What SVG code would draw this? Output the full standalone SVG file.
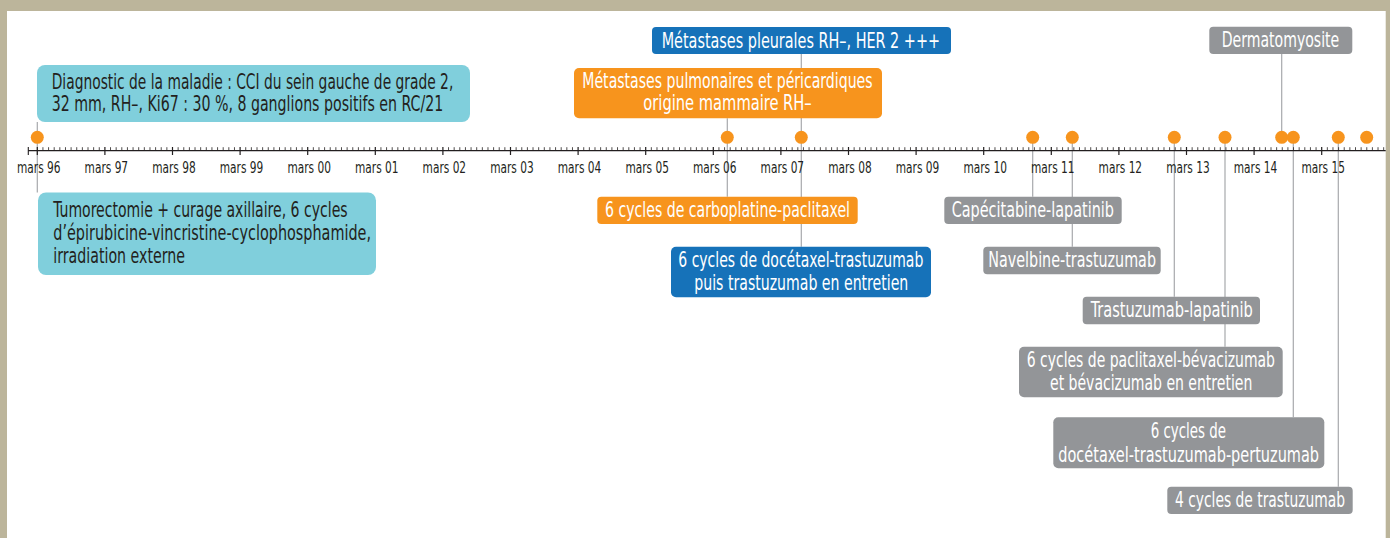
<svg xmlns="http://www.w3.org/2000/svg" width="1390" height="538" viewBox="0 0 1390 538">
<style>
text{font-family:"Liberation Sans Narrow","DejaVu Sans Condensed","Liberation Sans",sans-serif;}
.t{font-size:21px;}
.dk{fill:#231f20;}
.wt{fill:#ffffff;}
.ax{font-size:16px;fill:#231f20;}
.cyan{fill:#80cfdc;}
.orange{fill:#f7941d;}
.blue{fill:#1672b9;}
.gray{fill:#939598;}
.conn line{stroke:#a7a9ac;stroke-width:1.2;}
.dot{fill:#f7941d;}
</style>
<defs>
<path id="yr" d="M42.93 147.2V150.7M48.57 147.2V150.7M54.2 147.2V150.7M59.83 147.2V150.7M65.47 147.2V150.7M71.1 147.2V150.7M76.73 147.2V150.7M82.37 147.2V150.7M88 147.2V150.7M93.63 147.2V150.7M99.27 147.2V150.7"/>
</defs>
<rect x="0" y="0" width="1390" height="538" fill="#bcb59b"/>
<rect x="7" y="11" width="1378.7" height="527" fill="#ffffff"/>

<g id="connectors" class="conn">
<line x1="37.3" y1="122" x2="37.3" y2="192.5"/>
<line x1="727.3" y1="118.3" x2="727.3" y2="196.7"/>
<line x1="801.3" y1="54" x2="801.3" y2="246.7"/>
<line x1="1032.7" y1="137" x2="1032.7" y2="196.7"/>
<line x1="1072.3" y1="137" x2="1072.3" y2="246.7"/>
<line x1="1174.3" y1="137" x2="1174.3" y2="296.7"/>
<line x1="1225" y1="137" x2="1225" y2="346.7"/>
<line x1="1281.7" y1="54" x2="1281.7" y2="137"/>
<line x1="1293.3" y1="137" x2="1293.3" y2="417.3"/>
<line x1="1338.3" y1="137" x2="1338.3" y2="486.7"/>
</g>

<g id="axis" stroke="#231f20" fill="none">
<line x1="28" y1="150.7" x2="1385.7" y2="150.7" stroke-width="1.3"/>
<line x1="28.3" y1="147" x2="28.3" y2="155" stroke-width="1.1"/>
<g stroke-width="0.8">
<use href="#yr"/>
<use href="#yr" x="67.6"/>
<use href="#yr" x="135.2"/>
<use href="#yr" x="202.8"/>
<use href="#yr" x="270.4"/>
<use href="#yr" x="338"/>
<use href="#yr" x="405.6"/>
<use href="#yr" x="473.2"/>
<use href="#yr" x="540.8"/>
<use href="#yr" x="608.4"/>
<use href="#yr" x="676"/>
<use href="#yr" x="743.6"/>
<use href="#yr" x="811.2"/>
<use href="#yr" x="878.8"/>
<use href="#yr" x="946.4"/>
<use href="#yr" x="1014"/>
<use href="#yr" x="1081.6"/>
<use href="#yr" x="1149.2"/>
<use href="#yr" x="1216.8"/>
<use href="#yr" x="1284.4"/>
</g>
<path stroke-width="1.2" d="M37.3 147V155M104.9 147V155M172.5 147V155M240.1 147V155M307.7 147V155M375.3 147V155M442.9 147V155M510.5 147V155M578.1 147V155M645.7 147V155M713.3 147V155M780.9 147V155M848.5 147V155M916.1 147V155M983.7 147V155M1051.3 147V155M1118.9 147V155M1186.5 147V155M1254.1 147V155M1321.7 147V155"/>
</g>

<g id="axis-labels" class="ax">
<text x="17" y="172.5" textLength="43.5" lengthAdjust="spacingAndGlyphs">mars 96</text>
<text x="84.6" y="172.5" textLength="43.5" lengthAdjust="spacingAndGlyphs">mars 97</text>
<text x="152.2" y="172.5" textLength="43.5" lengthAdjust="spacingAndGlyphs">mars 98</text>
<text x="219.8" y="172.5" textLength="43.5" lengthAdjust="spacingAndGlyphs">mars 99</text>
<text x="287.4" y="172.5" textLength="43.5" lengthAdjust="spacingAndGlyphs">mars 00</text>
<text x="355" y="172.5" textLength="43.5" lengthAdjust="spacingAndGlyphs">mars 01</text>
<text x="422.6" y="172.5" textLength="43.5" lengthAdjust="spacingAndGlyphs">mars 02</text>
<text x="490.2" y="172.5" textLength="43.5" lengthAdjust="spacingAndGlyphs">mars 03</text>
<text x="557.8" y="172.5" textLength="43.5" lengthAdjust="spacingAndGlyphs">mars 04</text>
<text x="625.4" y="172.5" textLength="43.5" lengthAdjust="spacingAndGlyphs">mars 05</text>
<text x="693" y="172.5" textLength="43.5" lengthAdjust="spacingAndGlyphs">mars 06</text>
<text x="760.6" y="172.5" textLength="43.5" lengthAdjust="spacingAndGlyphs">mars 07</text>
<text x="828.2" y="172.5" textLength="43.5" lengthAdjust="spacingAndGlyphs">mars 08</text>
<text x="895.8" y="172.5" textLength="43.5" lengthAdjust="spacingAndGlyphs">mars 09</text>
<text x="963.4" y="172.5" textLength="43.5" lengthAdjust="spacingAndGlyphs">mars 10</text>
<text x="1031" y="172.5" textLength="43.5" lengthAdjust="spacingAndGlyphs">mars 11</text>
<text x="1098.6" y="172.5" textLength="43.5" lengthAdjust="spacingAndGlyphs">mars 12</text>
<text x="1166.2" y="172.5" textLength="43.5" lengthAdjust="spacingAndGlyphs">mars 13</text>
<text x="1233.8" y="172.5" textLength="43.5" lengthAdjust="spacingAndGlyphs">mars 14</text>
<text x="1301.4" y="172.5" textLength="43.5" lengthAdjust="spacingAndGlyphs">mars 15</text>
</g>

<g id="dots" class="dot">
<circle cx="37.3" cy="137.3" r="6.5"/>
<circle cx="727.3" cy="137.3" r="6.5"/>
<circle cx="801.3" cy="137.3" r="6.5"/>
<circle cx="1032.7" cy="137.3" r="6.5"/>
<circle cx="1072.3" cy="137.3" r="6.5"/>
<circle cx="1174.3" cy="137.3" r="6.5"/>
<circle cx="1225" cy="137.3" r="6.5"/>
<circle cx="1281.7" cy="137.3" r="6.5"/>
<circle cx="1293.3" cy="137.3" r="6.5"/>
<circle cx="1338.3" cy="137.3" r="6.5"/>
<circle cx="1366.7" cy="137.3" r="6.5"/>
</g>

<g id="diagnostic">
<rect class="cyan" x="37" y="65" width="433" height="57" rx="8"/>
<text class="t dk" x="51.7" y="88.5" textLength="401.6" lengthAdjust="spacingAndGlyphs">Diagnostic de la maladie : CCI du sein gauche de grade 2,</text>
<text class="t dk" x="51.7" y="111.3" textLength="391.6" lengthAdjust="spacingAndGlyphs">32 mm, RH–, Ki67 : 30 %, 8 ganglions positifs en RC/21</text>
</g>

<g id="tumorectomie">
<rect class="cyan" x="38" y="192.5" width="338" height="82.5" rx="8"/>
<text class="t dk" x="53.3" y="216.7" textLength="294.3" lengthAdjust="spacingAndGlyphs">Tumorectomie + curage axillaire, 6 cycles</text>
<text class="t dk" x="53.3" y="240" textLength="317.7" lengthAdjust="spacingAndGlyphs">d’épirubicine-vincristine-cyclophosphamide,</text>
<text class="t dk" x="53.3" y="263.3" textLength="131.7" lengthAdjust="spacingAndGlyphs">irradiation externe</text>
</g>

<g id="pleurales">
<rect class="blue" x="652" y="27" width="299" height="27" rx="4"/>
<text class="t wt" x="661.7" y="47.8" textLength="278.3" lengthAdjust="spacingAndGlyphs">Métastases pleurales RH–, HER 2 +++</text>
</g>

<g id="pulmonaires">
<rect class="orange" x="574" y="68" width="308" height="50.3" rx="5"/>
<text class="t wt" x="582.3" y="88.3" textLength="290.3" lengthAdjust="spacingAndGlyphs">Métastases pulmonaires et péricardiques</text>
<text class="t wt" x="643.3" y="110" textLength="168.4" lengthAdjust="spacingAndGlyphs">origine mammaire RH–</text>
</g>

<g id="carboplatine">
<rect class="orange" x="597.3" y="196.7" width="260.4" height="27.3" rx="4"/>
<text class="t wt" x="605" y="217" textLength="245" lengthAdjust="spacingAndGlyphs">6 cycles de carboplatine-paclitaxel</text>
</g>

<g id="docetaxel-trastuzumab">
<rect class="blue" x="671" y="246.7" width="260" height="50.6" rx="5"/>
<text class="t wt" x="678.3" y="267.3" textLength="245" lengthAdjust="spacingAndGlyphs">6 cycles de docétaxel-trastuzumab</text>
<text class="t wt" x="694.3" y="290" textLength="214" lengthAdjust="spacingAndGlyphs">puis trastuzumab en entretien</text>
</g>

<g id="capecitabine">
<rect class="gray" x="944.3" y="196.7" width="177.4" height="27.3" rx="4"/>
<text class="t wt" x="951.7" y="216.7" textLength="162.3" lengthAdjust="spacingAndGlyphs">Capécitabine-lapatinib</text>
</g>

<g id="navelbine">
<rect class="gray" x="983.3" y="246.7" width="177.4" height="27.6" rx="4"/>
<text class="t wt" x="988.3" y="266.7" textLength="167.7" lengthAdjust="spacingAndGlyphs">Navelbine-trastuzumab</text>
</g>

<g id="trastuzumab-lapatinib">
<rect class="gray" x="1082.7" y="296.7" width="177.3" height="27.6" rx="4"/>
<text class="t wt" x="1090.7" y="316.7" textLength="162" lengthAdjust="spacingAndGlyphs">Trastuzumab-lapatinib</text>
</g>

<g id="paclitaxel-bevacizumab">
<rect class="gray" x="1019" y="346.7" width="263.7" height="50.6" rx="5"/>
<text class="t wt" x="1026.7" y="366.7" textLength="248.3" lengthAdjust="spacingAndGlyphs">6 cycles de paclitaxel-bévacizumab</text>
<text class="t wt" x="1050" y="390" textLength="202.3" lengthAdjust="spacingAndGlyphs">et bévacizumab en entretien</text>
</g>

<g id="pertuzumab">
<rect class="gray" x="1053.3" y="417.3" width="271" height="51" rx="5"/>
<text class="t wt" x="1150.7" y="438.3" textLength="75.3" lengthAdjust="spacingAndGlyphs">6 cycles de</text>
<text class="t wt" x="1058.3" y="461.7" textLength="260.7" lengthAdjust="spacingAndGlyphs">docétaxel-trastuzumab-pertuzumab</text>
</g>

<g id="trastuzumab4">
<rect class="gray" x="1167.3" y="486.7" width="185.4" height="27.3" rx="4"/>
<text class="t wt" x="1175" y="506.5" textLength="170" lengthAdjust="spacingAndGlyphs">4 cycles de trastuzumab</text>
</g>

<g id="dermatomyosite">
<rect class="gray" x="1209.3" y="26.7" width="143" height="27.3" rx="4"/>
<text class="t wt" x="1221.7" y="47.3" textLength="117.6" lengthAdjust="spacingAndGlyphs">Dermatomyosite</text>
</g>
</svg>
